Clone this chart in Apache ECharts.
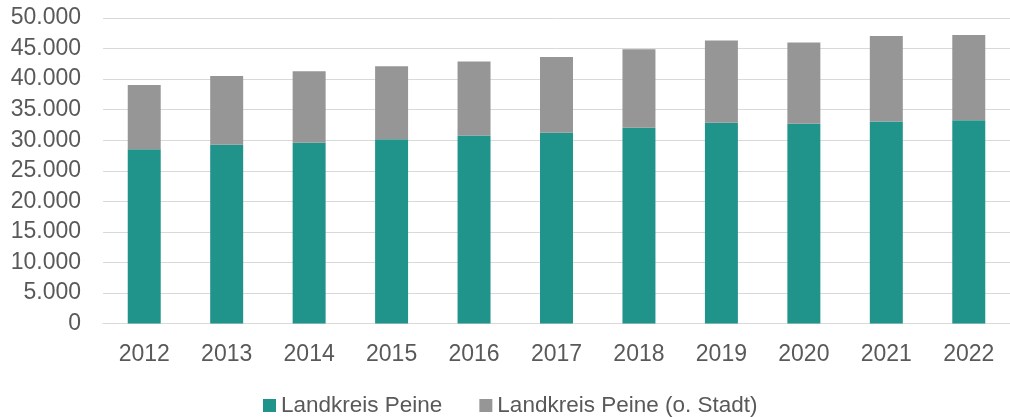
<!DOCTYPE html>
<html>
<head>
<meta charset="utf-8">
<script src="https://cdn.jsdelivr.net/npm/echarts@6/dist/echarts.min.js"></script>
<style>
  html, body { margin: 0; padding: 0; background: #fff; }
  #chart { width: 1010px; height: 417px; }
</style>
</head>
<body>
<div id="chart"></div>
<script>
// Jahre
const years = ['2012', '2013', '2014', '2015', '2016', '2017', '2018', '2019', '2020', '2021', '2022']
// Landkreis Peine (unterer Teil)
const peine = [28500, 29250, 29600, 30150, 30750, 31200, 32050, 32850, 32700, 33050, 33250]
// Landkreis Peine (o. Stadt), gestapelt oben drauf
const peineOhneStadt = [10550, 11250, 11700, 11950, 12150, 12400, 12850, 13450, 13300, 14000, 13950]

const seriesNames = ['Landkreis Peine', 'Landkreis Peine (o. Stadt)']

const textColor = '#595959'
const font = 'Liberation Sans, Arial, sans-serif'

// Tausenderpunkt wie im Original
const fmt = (v) => String(v).replace(/\B(?=(\d{3})+(?!\d))/g, '.')

const chart = echarts.init(document.getElementById('chart'))

const option = {
  animation: false,
  textStyle: { fontFamily: font },
  grid: {
    left: 103,
    top: 18,
    width: 918,
    height: 305.5,
  },
  legend: {
    top: 389,
    left: 258,
    itemWidth: 13,
    itemHeight: 13,
    itemGap: 37,
    icon: 'rect',
    textStyle: { color: textColor, fontSize: 22.5, fontFamily: font },
    data: seriesNames,
  },
  xAxis: {
    type: 'category',
    data: years,
    axisLine: { lineStyle: { color: '#d9d9d9', width: 1 } },
    axisTick: { show: false },
    axisLabel: { color: textColor, fontSize: 23, margin: 20, fontFamily: font },
  },
  yAxis: {
    type: 'value',
    min: 0,
    max: 50000,
    interval: 5000,
    axisLine: { show: false },
    axisTick: { show: false },
    axisLabel: { color: textColor, fontSize: 23, margin: 22, formatter: fmt, fontFamily: font },
    splitLine: { lineStyle: { color: '#d9d9d9', width: 1 } },
  },
  series: [
    {
      name: seriesNames[0],
      type: 'bar',
      stack: 'total',
      barWidth: '40%',
      data: peine,
      itemStyle: { color: '#20948b' },
    },
    {
      name: seriesNames[1],
      type: 'bar',
      stack: 'total',
      barWidth: '40%',
      data: peineOhneStadt,
      itemStyle: { color: '#969696' },
    },
  ],
}

chart.setOption(option)
</script>
</body>
</html>
